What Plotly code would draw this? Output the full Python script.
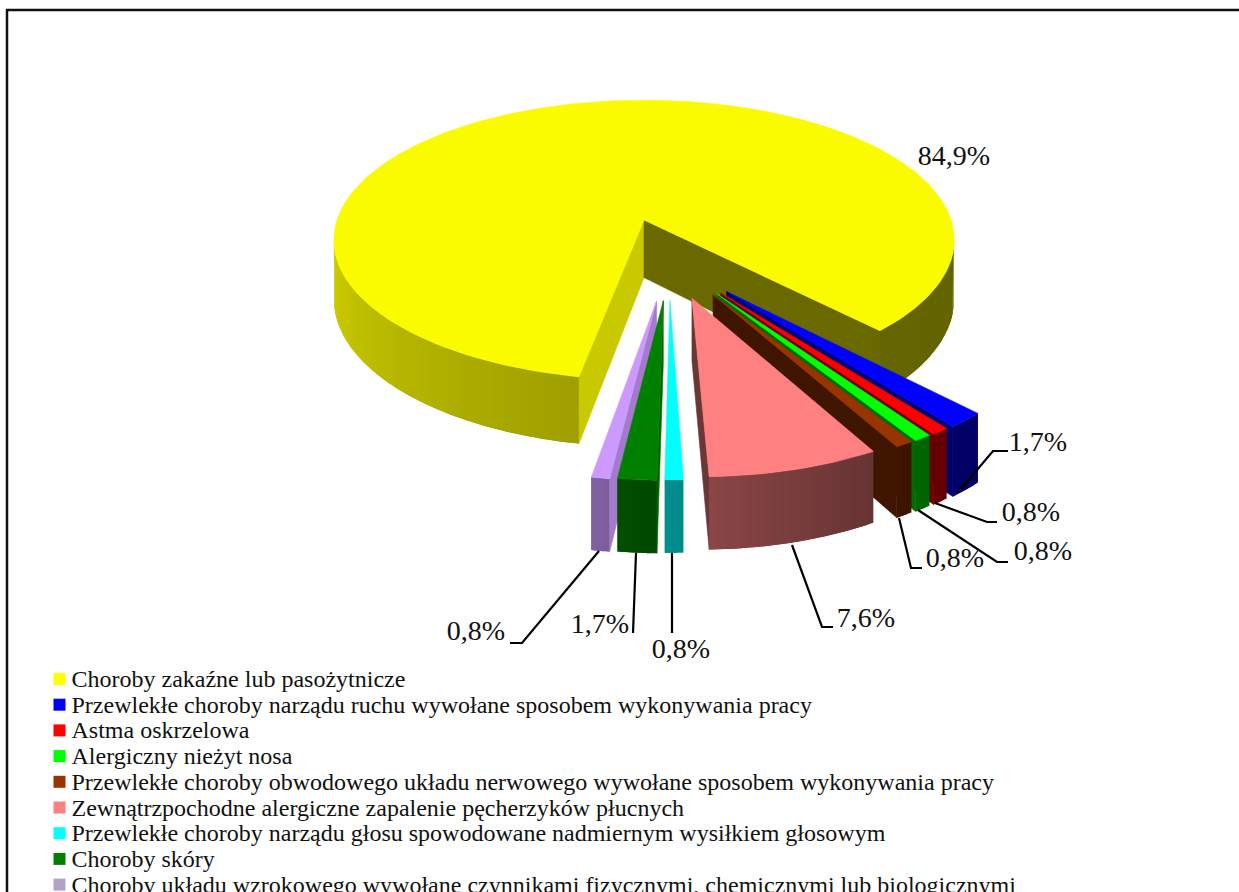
import numpy as np
import plotly.graph_objects as go

CATEGORIES = [
    "Choroby zakaźne lub pasożytnicze",
    "Przewlekłe choroby narządu ruchu wywołane sposobem wykonywania pracy",
    "Astma oskrzelowa",
    "Alergiczny nieżyt nosa",
    "Przewlekłe choroby obwodowego układu nerwowego wywołane sposobem wykonywania pracy",
    "Zewnątrzpochodne alergiczne zapalenie pęcherzyków płucnych",
    "Przewlekłe choroby narządu głosu spowodowane nadmiernym wysiłkiem głosowym",
    "Choroby skóry",
    "Choroby układu wzrokowego wywołane czynnikami fizycznymi, chemicznymi lub biologicznymi",
]
VALUES = [84.9, 1.7, 0.8, 0.8, 0.8, 7.6, 0.8, 1.7, 0.8]
LABELS = ["84,9%", "1,7%", "0,8%", "0,8%", "0,8%", "7,6%", "0,8%", "1,7%", "0,8%"]
TOP_COLORS = ["#FBFB00", "#0000FF", "#FF0000", "#00FF00", "#993300",
              "#FF8080", "#00FFFF", "#008000", "#CC99FF"]
LEGEND_COLORS = ["#FFFF00", "#0000FF", "#FF0000", "#00FF00", "#993300",
                 "#FF8080", "#00FFFF", "#008000", "#B3A2C7"]
DRAW_ORDER = [0, 1, 2, 3, 4, 5, 8, 7, 6]

# Leader lines and label anchors, in page pixels
LEADERS = [None,
           [(1008, 451), (993, 451), (960, 490)],
           [(997, 522), (987, 522), (935, 503)],
           [(1008, 562), (997, 562), (918, 510)],
           [(922, 568), (911, 568), (899, 518)],
           [(833, 627), (822, 627), (792, 545)],
           [(672, 633), (672, 553)],
           [(633, 633), (636, 553)],
           [(510, 643), (522, 643), (599, 551)]]
LABEL_X = [954, 1038, 1031, 1043, 955, 866, 681, 600, 476]
LABEL_Y = [158, 444, 514, 553, 560, 620, 651, 626, 633]

# Perspective projection of the pie
CX, CY, RX, RY, DEPTH, PERSP = 644, 220, 307, 137, 57.5, 0.143
START = 349.5
EXPLODE, EXPL_R, EXPL_AXIS, EXPL_SQUEEZE = 0.547, 0.95, 15.5, 0.47


def proj(xg, yg, z=0.0):
    w = 1 - PERSP * yg
    return CX + RX * xg / w, CY + (RY * yg + DEPTH * z) / w


def shade(phi):
    p = ((phi + 180) % 360) - 180
    return float(np.interp(p, [-100, -10, 0, 29], [0.87, 0.63, 0.55, 0.40]))


def tint(color, f):
    r, g, b = (int(color[i:i + 2], 16) for i in (1, 3, 5))
    return f"rgb({r * f:.0f},{g * f:.0f},{b * f:.0f})"


def poly(fig, pts, color, width=0.6):
    xs = [p[0] for p in pts] + [pts[0][0]]
    ys = [p[1] for p in pts] + [pts[0][1]]
    fig.add_trace(go.Scatter(x=xs, y=ys, mode="lines", fill="toself", fillcolor=color,
                             line=dict(color=color, width=width), hoverinfo="skip",
                             showlegend=False))


def area(pts):
    a = 0.0
    for i in range(len(pts)):
        x1, y1 = pts[i]
        x2, y2 = pts[(i + 1) % len(pts)]
        a += x1 * y2 - x2 * y1
    return a


def draw_slice(fig, hi, lo, ox, oy, r, color):
    n = max(2, int((hi - lo) / 1.25) + 2)
    phis = np.linspace(hi, lo, n)
    step = (hi - lo) / (n - 1)

    def P(ph, rr, z=0.0):
        t = np.radians(ph)
        return proj(ox + rr * np.sin(t), oy + rr * np.cos(t), z)

    apex, apex_b = proj(ox, oy), proj(ox, oy, 1)
    # radial walls: the side at the low angle is the shaded one
    for ph, f, sgn in ((hi, 0.80, 1), (lo, 0.42, -1)):
        p, pb = P(ph, r), P(ph, r, 1)
        q = [apex, apex_b, pb, p] if sgn > 0 else [p, pb, apex_b, apex]
        if area(q) > 0:
            poly(fig, q, tint(color, f))
    # outer wall, cut in overlapping strips to give a smooth gradient
    for a, b in zip(phis[:-1], phis[1:]):
        q = [P(a, r), P(a, r, 1), P(b, r, 1), P(b, r)]
        if area(q) > 0:
            c = max(b - step, lo)
            wide = [P(a, r), P(a, r, 1), P(b, r, 1), P(c, r, 1), P(c, r), P(b, r)]
            poly(fig, wide, tint(color, shade((a + b) / 2)), width=0)
    top = [apex] + [P(ph, r) for ph in phis]
    poly(fig, top, color)


fig = go.Figure()
total = sum(VALUES)
cum = np.cumsum([0] + VALUES) / total
for i in DRAW_ORDER:
    hi, lo = START - 360 * cum[i], START - 360 * cum[i + 1]
    if i == 0:
        ox, oy, r = 0.0, 0.0, 1.0
    else:
        bis = (hi + lo) / 2
        d = np.radians(EXPL_AXIS + EXPL_SQUEEZE * (bis - EXPL_AXIS))
        ox, oy, r = EXPLODE * np.sin(d), EXPLODE * np.cos(d), EXPL_R
    draw_slice(fig, hi, lo, ox, oy, r, TOP_COLORS[i])

for seg in LEADERS:
    if seg:
        fig.add_trace(go.Scatter(x=[p[0] for p in seg], y=[p[1] for p in seg], mode="lines",
                                 line=dict(color="black", width=2.2), hoverinfo="skip",
                                 showlegend=False))

fig.add_trace(go.Scatter(x=LABEL_X, y=LABEL_Y, mode="text", text=LABELS, textposition="middle center",
                         textfont=dict(family="Liberation Serif", size=28, color="#111111"),
                         hoverinfo="skip", showlegend=False))

LEG_X, LEG_TX, LEG_Y0, LEG_STEP = 59.5, 71.5, 679, 25.7
leg_y = [LEG_Y0 + LEG_STEP * i for i in range(len(CATEGORIES))]
fig.add_trace(go.Scatter(
    x=[LEG_X] * len(CATEGORIES), y=leg_y, mode="markers",
    marker=dict(symbol="square", size=12, color=LEGEND_COLORS, line=dict(width=0)),
    hoverinfo="skip", showlegend=False))
fig.add_trace(go.Scatter(
    x=[LEG_TX] * len(CATEGORIES), y=[y + 2 for y in leg_y], mode="text", text=CATEGORIES,
    textposition="middle right",
    textfont=dict(family="Liberation Serif", size=24, color="#111111"),
    hoverinfo="skip", showlegend=False, cliponaxis=False))

fig.update_layout(
    width=1239, height=892, margin=dict(l=0, r=0, t=0, b=0), showlegend=False,
    paper_bgcolor="white", plot_bgcolor="white",
    xaxis=dict(range=[0, 1239], visible=False, fixedrange=True),
    yaxis=dict(range=[892, 0], visible=False, fixedrange=True),
    shapes=[dict(type="path", path="M 1245 10 L 7 10 L 7 900", xref="x", yref="y",
                 line=dict(color="#111111", width=2.5))],
)
fig.write_html("out.html", config={"displayModeBar": False},
               post_script="document.body.style.margin='0';document.body.style.overflow='hidden';")
